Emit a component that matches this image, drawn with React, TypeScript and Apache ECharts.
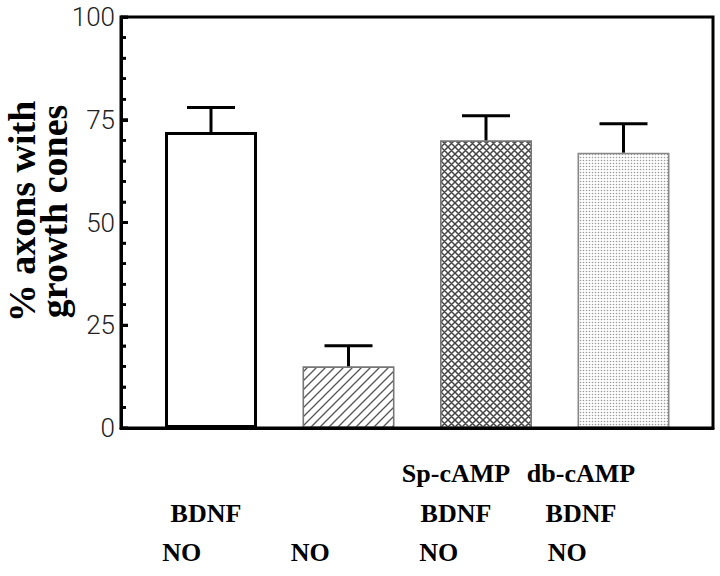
import React, { useEffect, useRef } from "react";
import * as echarts from "echarts";

const categories = ["BDNF+NO", "NO", "Sp-cAMP+BDNF+NO", "db-cAMP+BDNF+NO"];
const values = [72, 15, 70, 67];
const errors = [6, 5, 6, 7];
const labelRow1 = ["", "", "Sp-cAMP", "db-cAMP"];
const labelRow2 = ["BDNF", "", "BDNF", "BDNF"];
const labelRow3 = ["NO", "NO", "NO", "NO"];
const yMin = 0;
const yMax = 100;
const yInterval = 25;
const yMinorStep = 5;
const yTitle = "% axons with\ngrowth cones";

function makeTile(kind: string): HTMLCanvasElement {
  const c = document.createElement("canvas");
  const ctx = c.getContext("2d")!;
  const s = kind === "hatch" ? 9 : kind === "cross" ? 7 : 3;
  c.width = s;
  c.height = s;
  ctx.fillStyle = "#fff";
  ctx.fillRect(0, 0, s, s);
  if (kind === "dots") {
    ctx.fillStyle = "#9a9a9a";
    ctx.beginPath();
    ctx.arc(1.5, 1.5, 0.8, 0, Math.PI * 2);
    ctx.fill();
    return c;
  }
  ctx.strokeStyle = kind === "hatch" ? "#555" : "#444";
  ctx.lineWidth = kind === "hatch" ? 1.3 : 1.5;
  ctx.beginPath();
  ctx.moveTo(0, s); ctx.lineTo(s, 0);
  ctx.moveTo(-2, 2); ctx.lineTo(2, -2);
  ctx.moveTo(s - 2, s + 2); ctx.lineTo(s + 2, s - 2);
  if (kind === "cross") {
    ctx.moveTo(0, 0); ctx.lineTo(s, s);
    ctx.moveTo(-2, s - 2); ctx.lineTo(2, s + 2);
    ctx.moveTo(s - 2, -2); ctx.lineTo(s + 2, 2);
  }
  ctx.stroke();
  return c;
}

export default function App() {
  const ref = useRef<HTMLDivElement>(null);
  useEffect(() => {
    if (!ref.current) return;
    const chart = echarts.init(ref.current, undefined, { renderer: "svg" });
    const fills: any[] = [
      "transparent",
      { image: makeTile("hatch"), repeat: "repeat" },
      { image: makeTile("cross"), repeat: "repeat" },
      { image: makeTile("dots"), repeat: "repeat" },
    ];
    const borders = ["#000", "#777", "#777", "#888"];
    const borderWidths = [3, 1.6, 1.6, 1.6];
    const hiddenY = (gi: number) => ({ type: "value", gridIndex: gi, min: yMin, max: yMax, show: false });
    const labelFont = { fontFamily: "Liberation Serif", fontWeight: "bold", fontSize: 26, color: "#000", lineHeight: 40 };
    const frameLine = { show: true, onZero: false, lineStyle: { color: "#000", width: 3 } };

    const option: any = {
      animation: false,
      grid: [
        { left: 121, right: 7, top: 17, bottom: 148 },
        { left: 142.25, width: 550, top: 17, bottom: 148 },
        { left: 143.5, width: 500, top: 17, bottom: 148 },
        { left: 117.5, width: 514, top: 17, bottom: 148 },
      ],
      xAxis: [
        { type: "category", gridIndex: 0, data: [""], axisLine: frameLine, axisTick: { show: false }, axisLabel: { show: false }, splitLine: { show: false } },
        { type: "category", gridIndex: 1, data: categories, show: false },
        { type: "category", gridIndex: 2, data: labelRow1.map((t, i) => `${t}\n${labelRow2[i]}`), axisLine: { show: false }, axisTick: { show: false }, axisLabel: { interval: 0, margin: 25, ...labelFont } },
        { type: "category", gridIndex: 3, data: labelRow3, axisLine: { show: false }, axisTick: { show: false }, axisLabel: { interval: 0, margin: 104, ...labelFont } },
      ],
      yAxis: [
        {
          type: "value",
          gridIndex: 0,
          min: yMin,
          max: yMax,
          interval: yInterval,
          axisLine: frameLine,
          axisTick: { show: true, inside: true, length: 7, lineStyle: { color: "#000", width: 3 } },
          minorTick: { show: true, splitNumber: 5, length: 5, lineStyle: { color: "#000", width: 2.5 } },
          axisLabel: { margin: 6, fontFamily: "Roboto", fontWeight: 300, fontSize: 26, color: "#222" },
          splitLine: { show: false },
        },
        hiddenY(1),
        hiddenY(2),
        hiddenY(3),
      ],
      graphic: [
        {
          type: "text",
          x: 37.5,
          y: 211.5,
          rotation: Math.PI / 2,
          style: { text: yTitle, align: "center", verticalAlign: "middle", fontFamily: "Liberation Serif", fontWeight: "bold", fontSize: 38, lineHeight: 32, fill: "#000" },
        },
      ],
      series: [
        {
          type: "bar",
          xAxisIndex: 1,
          yAxisIndex: 1,
          barWidth: 92,
          data: values.map((v, i) => ({ value: v, itemStyle: { color: fills[i], borderColor: borders[i], borderWidth: borderWidths[i] } })),
          z: 2,
        },
        {
          type: "custom",
          xAxisIndex: 1,
          yAxisIndex: 1,
          data: values.map((v, i) => [i, v, v + errors[i]]),
          z: 3,
          renderItem: (params: any, api: any) => {
            const i = api.value(0);
            const low = api.coord([i, api.value(1)]);
            const high = api.coord([i, api.value(2)]);
            const hw = 24;
            const st = { stroke: "#000", lineWidth: 3 };
            return {
              type: "group",
              children: [
                { type: "line", shape: { x1: low[0], y1: low[1], x2: high[0], y2: high[1] }, style: st },
                { type: "line", shape: { x1: high[0] - hw, y1: high[1], x2: high[0] + hw, y2: high[1] }, style: st },
              ],
            };
          },
        },
        {
          // frame and inside ticks of the main plot box, drawn from grid 0's own scale
          type: "custom",
          xAxisIndex: 0,
          yAxisIndex: 0,
          silent: true,
          clip: false,
          z: 6,
          data: [[0, yMin]],
          renderItem: (params: any, api: any) => {
            const cs = params.coordSys;
            const st = { stroke: "#000", lineWidth: 3, fill: "none" };
            const children: any[] = [
              { type: "rect", shape: { x: cs.x, y: cs.y, width: cs.width, height: cs.height }, style: st },
            ];
            for (let v = yMin; v <= yMax; v += yMinorStep) {
              const y = api.coord([0, v])[1];
              const major = v % yInterval === 0;
              children.push({
                type: "line",
                shape: { x1: cs.x, y1: y, x2: cs.x + (major ? 7 : 5), y2: y },
                style: { stroke: "#000", lineWidth: major ? 3 : 2.5 },
              });
            }
            return { type: "group", children };
          },
        },
      ],
    };
    chart.setOption(option);
    return () => chart.dispose();
  }, []);
  return <div ref={ref} style={{ width: 720, height: 576, position: "absolute", left: 0, top: 0 }} />;
}
